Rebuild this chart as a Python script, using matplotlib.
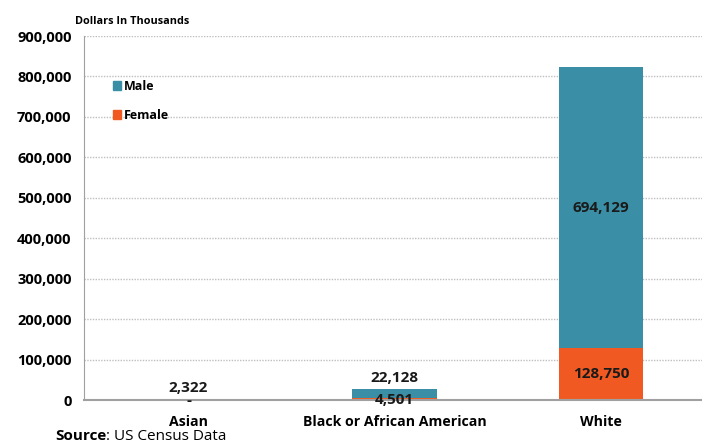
import matplotlib.pyplot as plt
from matplotlib.patches import Patch

categories = ['Asian', 'Black or African American', 'White']
male = [2322, 22128, 694129]
female = [0, 4501, 128750]
y_ticks = list(range(0, 900001, 100000))

TEAL = '#3A8FA6'
ORANGE = '#F05A22'
FONT = 'Open Sans'

plt.rcParams['font.family'] = FONT

fig = plt.figure(figsize=(7.02, 4.45), dpi=100)
ax = fig.add_axes([84 / 702, 1 - 400 / 445, 1 - 84 / 702, (400 - 36) / 445])

x = list(range(len(categories)))
ax.bar(x, female, width=0.41, color=ORANGE, zorder=3)
ax.bar(x, male, width=0.41, bottom=female, color=TEAL, zorder=3)

ax.set_xlim(-0.507, 2.49)
ax.set_ylim(0, 900000)
ax.set_yticks(y_ticks)
ax.set_yticklabels([f'{v:,}' for v in y_ticks], fontsize=10.5, fontweight='bold')
ax.set_xticks(x)
ax.set_xticklabels(categories, fontsize=10.2, fontweight='bold')
ax.tick_params(length=0)
ax.tick_params(axis='y', pad=9)
ax.tick_params(axis='x', pad=11)

ax.grid(axis='y', linestyle=(0, (1, 1)), color='#BFBFBF', linewidth=1, zorder=0)
for s in ['top', 'right']:
    ax.spines[s].set_visible(False)
ax.spines['left'].set_color('#A0A0A0')
ax.spines['bottom'].set_color('#A0A0A0')
ax.spines['bottom'].set_linewidth(1.5)
ax.spines['bottom'].set_zorder(4)

lbl = dict(ha='center', va='center', fontsize=11, fontweight='bold', color='#1a1a1a', zorder=5)
# White: labels centered in segments
ax.text(2, female[2] + male[2] / 2, f'{male[2]:,}', **lbl)
ax.text(2, female[2] / 2, f'{female[2]:,}', **lbl)
# Black: male label above bar, female label at base
ax.annotate(f'{male[1]:,}', (1, female[1] + male[1]), xytext=(0, 8),
            textcoords='offset points', **lbl)
ax.annotate(f'{female[1]:,}', (1, 0), xytext=(0, 0), textcoords='offset points', **lbl)
# Asian
ax.annotate(f'{male[0]:,}', (0, female[0] + male[0]), xytext=(0, 8),
            textcoords='offset points', **lbl)
ax.annotate('-' if female[0] == 0 else f'{female[0]:,}', (0, 0), xytext=(0, -1),
            textcoords='offset points', **lbl)

handles = [Patch(color=TEAL, label='Male'), Patch(color=ORANGE, label='Female')]
leg = ax.legend(handles=handles, loc='upper left', bbox_to_anchor=(0.028, 0.91),
                frameon=False, handlelength=0.7, handleheight=0.7, handletextpad=0.2,
                labelspacing=1.25, prop={'family': FONT, 'weight': 'bold', 'size': 9})

fig.text(75 / 702, 1 - 22 / 445, 'Dollars In Thousands', fontsize=7.8,
         fontweight='bold', va='center', ha='left')
t = fig.text(55 / 702, 1 - 436 / 445, 'Source', fontsize=11, fontweight='bold',
             va='center', ha='left')
fig.canvas.draw()
bb = t.get_window_extent()
fig.text(bb.x1 / fig.bbox.width, 1 - 436 / 445, ': US Census Data', fontsize=11,
         va='center', ha='left')

fig.savefig('out.png', dpi=100)
